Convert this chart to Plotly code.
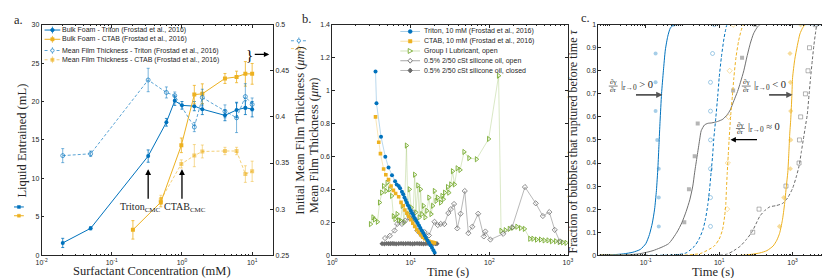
import math
import plotly.graph_objects as go

W, H = 830, 278

# ---------------- colours ----------------
BLUE = "#0072BD"
YELLOW = "#EDB120"
BLUE_L = "rgba(0,114,189,0.65)"
YELLOW_L = "rgba(237,177,32,0.6)"
GREEN = "#77AC30"
AX = "#262626"

# ---------------- panel a data ----------------
conc_triton = [0.02, 0.05, 0.33, 0.6, 0.79, 1.0, 1.5, 1.95, 4.1, 6.0, 8.0, 10.0]
bulk_triton = [1.6, 3.5, 12.9, 17.3, 20.1, 19.5, 19.4, 19.0, 18.2, 18.9, 19.2, 19.0]
bulk_triton_err = [0.6, 0.2, 0.8, 0.5, 0.6, 0.5, 0.6, 0.7, 0.7, 1.0, 0.9, 1.0]

conc_film_triton = [0.02, 0.05, 0.33, 0.6, 0.79, 1.5, 1.95, 4.1, 6.0, 8.0, 10.0]
film_triton = [0.358, 0.36, 0.44, 0.4265, 0.423, 0.389, 0.421, 0.406, 0.399, 0.422, 0.4135]
film_triton_err = [0.0076, 0.003, 0.0127, 0.006, 0.004, 0.005, 0.009, 0.007, 0.016, 0.014, 0.007]

conc_ctab = [0.2, 0.5, 0.98, 1.5, 1.95, 4.1, 6.0, 8.0, 10.0]
bulk_ctab = [3.3, 6.9, 14.3, 20.9, 21.0, 23.0, 23.2, 23.6, 23.6]
bulk_ctab_err = [1.2, 0.6, 0.95, 1.2, 1.3, 0.65, 0.75, 1.6, 1.35]

conc_film_ctab = [0.5, 0.98, 1.5, 1.95, 4.1, 6.0, 8.0, 10.0]
film_ctab = [0.31, 0.349, 0.358, 0.3625, 0.363, 0.363, 0.338, 0.341]
film_ctab_err = [0.005, 0.0044, 0.012, 0.007, 0.004, 0.004, 0.009, 0.011]

cmc_triton = 0.33
cmc_ctab = 1.0

names_a = ["Bulk Foam - Triton (Frostad et al., 2016)",
           "Bulk Foam - CTAB (Frostad et al., 2016)",
           "Mean Film Thickness - Triton (Frostad et al., 2016)",
           "Mean Film Thickness - CTAB (Frostad et al., 2016)"]

ticks_a_x = [0.01, 0.1, 1, 10]
ticks_a_xtext = ["10<sup>-2</sup>", "10<sup>-1</sup>", "10<sup>0</sup>", "10<sup>1</sup>"]
ticks_a_y = [0, 5, 10, 15, 20, 25, 30]
ticks_a_y2 = [0.25, 0.3, 0.35, 0.4, 0.45, 0.5]
ticks_a_y2text = ["0.25", "0.3", "0.35", "0.4", "0.45", "0.5"]

# ---------------- panel b data ----------------
t_triton = [3.55, 3.65, 4.17, 4.73, 5.2, 5.75, 6.3, 6.6, 7.0, 7.3, 7.7, 8.0, 8.3, 8.6, 8.9,
            9.2, 9.6, 10.0, 10.4, 10.8, 11.2, 11.7, 12.2, 12.7, 13.2, 13.8, 14.4, 15.0,
            15.6, 16.3, 17.0, 17.8, 18.6, 19.4, 20.1]
h_triton = [1.116, 0.923, 0.72, 0.598, 0.532, 0.485, 0.449, 0.43, 0.42, 0.406, 0.386, 0.37,
            0.35, 0.335, 0.318, 0.303, 0.287, 0.27, 0.255, 0.24, 0.225, 0.21, 0.195, 0.18,
            0.165, 0.15, 0.135, 0.12, 0.105, 0.09, 0.075, 0.06, 0.045, 0.03, 0.015]

t_ctab = [3.55, 3.9, 4.1, 4.5, 4.8, 5.2, 5.6, 6.0, 6.4, 7.0, 7.5, 8.0, 8.4, 8.9, 9.4, 10.0,
          10.6, 11.2, 11.9, 12.6, 13.4, 14.2, 15.0, 16.0, 17.0, 18.0, 19.0, 20.0]
h_ctab = [0.84, 0.686, 0.617, 0.524, 0.489, 0.459, 0.42, 0.394, 0.375, 0.355, 0.321, 0.30,
          0.275, 0.255, 0.235, 0.215, 0.195, 0.175, 0.155, 0.14, 0.125, 0.11, 0.1, 0.09,
          0.085, 0.08, 0.078, 0.075]

t_lub = [3.07, 3.3, 3.45, 3.76, 4.0, 4.26, 4.5, 4.83, 5.0, 5.4, 5.7, 6.0, 6.3, 6.7, 7.0, 7.4,
         7.8, 8.2, 8.8, 9.2, 9.6, 10.1, 10.6, 11.2, 11.6, 12.3, 12.8, 13.3, 13.8, 14.5, 15.2,
         16.0, 17.0, 18.1, 19.0, 20.0, 21.0, 22.0, 24.0, 25.0, 26.0, 27.0, 29.4, 30.5, 32.3,
         34.0, 36.0, 39.0, 42.4, 47.6, 55.0, 68.6, 98.0, 131.0, 141.0, 160.0, 180.0, 199.0,
         225.0, 250.0, 280.0, 328.0, 360.0, 400.0, 450.0, 500.0, 560.0, 620.0, 700.0, 780.0,
         860.0, 950.0]
h_lub = [0.189, 0.23, 0.217, 0.203, 0.32, 0.38, 0.42, 0.39, 0.44, 0.40, 0.36, 0.237, 0.22,
         0.25, 0.213, 0.21, 0.30, 0.20, 0.666, 0.25, 0.40, 0.29, 0.22, 0.489, 0.26, 0.424,
         0.23, 0.40, 0.25, 0.30, 0.23, 0.27, 0.35, 0.25, 0.30, 0.39, 0.33, 0.35, 0.32, 0.36,
         0.34, 0.38, 0.414, 0.38, 0.43, 0.51, 0.43, 0.528, 0.518, 0.627, 0.59, 0.583, 0.706,
         1.09, 0.148, 0.152, 0.16, 0.167, 0.173, 0.165, 0.16, 0.10, 0.10, 0.095, 0.095, 0.09,
         0.09, 0.085, 0.085, 0.08, 0.078, 0.075]

t_sil_open = [4.7, 5.4, 6.2, 6.7, 7.7, 8.5, 9.7, 10.5, 11.2, 12.1, 13.5, 15.0, 17.0, 20.0,
              22.0, 24.0, 26.7, 30.0, 32.3, 35.5, 39.0, 43.0, 48.6, 54.0, 60.6, 72.0, 85.0,
              89.0, 103.0, 150.0, 195.0, 284.0, 390.0, 480.0, 580.0, 680.0, 790.0]
h_sil_open = [0.104, 0.118, 0.15, 0.19, 0.19, 0.21, 0.225, 0.26, 0.22, 0.15, 0.124, 0.14,
              0.12, 0.203, 0.183, 0.19, 0.189, 0.256, 0.28, 0.311, 0.163, 0.252, 0.39, 0.134,
              0.173, 0.252, 0.114, 0.144, 0.095, 0.13, 0.17, 0.414, 0.315, 0.238, 0.262,
              0.154, 0.084]

t_sil_closed = [4.3, 4.6, 4.9, 5.2, 5.5, 5.8, 6.1, 6.5, 7.0, 7.5, 8.0, 8.6, 9.2, 9.8, 10.5,
                11.2, 12.0, 12.8, 13.6, 14.5, 15.5, 16.5, 17.5, 18.5, 19.5, 20.5, 21.5]
h_sil_closed = [0.07, 0.069, 0.071, 0.07, 0.07, 0.071, 0.07, 0.069, 0.07, 0.071, 0.07, 0.07,
                0.071, 0.07, 0.069, 0.07, 0.071, 0.07, 0.07, 0.069, 0.07, 0.071, 0.07, 0.07,
                0.071, 0.07, 0.07]

names_b = ["Triton, 10 mM (Frostad et al., 2016)", "CTAB, 10 mM (Frostad et al., 2016)",
           "Group I Lubricant, open", "0.5% 2/50 cSt silicone oil, open",
           "0.5% 2/50 cSt silicone oil, closed"]

ticks_b_x = [1, 10, 100, 1000]
ticks_b_xtext = ["10<sup>0</sup>", "10<sup>1</sup>", "10<sup>2</sup>", "10<sup>3</sup>"]
ticks_b_y = [0, 0.2, 0.4, 0.6, 0.8, 1.0, 1.2, 1.4]
ticks_b_ytext = ["0", "0.2", "0.4", "0.6", "0.8", "1", "1.2", "1.4"]

# ---------------- panel c data (curves) ----------------
c_blue_t = [0.0056, 0.0126, 0.0251, 0.0447, 0.0708, 0.1, 0.126, 0.151, 0.174, 0.195, 0.214,
            0.229, 0.245, 0.269, 0.302, 0.341, 0.398, 0.465, 0.562, 0.708, 10000]
c_blue_f = [0, 0.002, 0.006, 0.013, 0.025, 0.05, 0.09, 0.14, 0.2, 0.28, 0.38, 0.48, 0.58,
            0.7, 0.8, 0.89, 0.95, 0.985, 0.998, 1, 1]

c_gray_t = [0.0056, 0.0251, 0.066, 0.158, 0.417, 0.708, 0.955, 1.26, 1.58, 1.91, 2.15, 2.51,
            2.93, 3.24, 3.98, 4.9, 6.31, 9.02, 12.6, 16.6, 20.0, 25.1, 31.6, 38.0, 46.8,
            56.9, 70.8, 85.7, 105, 129, 10000]
c_gray_f = [0, 0.001, 0.006, 0.02, 0.05, 0.1, 0.14, 0.19, 0.24, 0.3, 0.36, 0.43, 0.5, 0.54,
            0.565, 0.572, 0.574, 0.58, 0.59, 0.61, 0.63, 0.67, 0.71, 0.75, 0.8, 0.86, 0.92,
            0.96, 0.985, 1, 1]

c_bluedash_t = [0.0056, 0.316, 0.776, 1.26, 2.15, 2.82, 3.59, 4.27, 4.9, 5.5, 6.03, 6.61,
                7.08, 7.59, 8.13, 9.12, 10.0, 11.5, 13.5, 15.1, 16.6, 10000]
c_bluedash_f = [0, 0, 0.003, 0.01, 0.04, 0.07, 0.11, 0.16, 0.22, 0.29, 0.36, 0.43, 0.5,
                0.55, 0.6, 0.69, 0.77, 0.86, 0.94, 0.98, 1, 1]

c_yeldash_t = [0.0056, 1.0, 3.16, 7.36, 10.0, 12.3, 14.1, 15.1, 15.8, 16.6, 17.6, 18.6,
               19.5, 20.4, 22.9, 25.1, 28.8, 33.9, 39.8, 46.8, 10000]
c_yeldash_f = [0, 0, 0.008, 0.04, 0.07, 0.11, 0.17, 0.22, 0.29, 0.36, 0.43, 0.5, 0.55, 0.6,
               0.69, 0.77, 0.86, 0.93, 0.975, 1, 1]

c_graydash_t = [0.0056, 10, 16.6, 25.1, 38, 56.2, 77.6, 100, 129, 178, 240, 355, 537, 741,
                1000, 1259, 1514, 1738, 1950, 2239, 2512, 2818, 3090, 3467, 3802, 4266,
                4677, 10000]
c_graydash_f = [0, 0, 0.005, 0.02, 0.04, 0.07, 0.1, 0.135, 0.17, 0.195, 0.21, 0.215, 0.225,
                0.25, 0.29, 0.34, 0.39, 0.45, 0.5, 0.56, 0.61, 0.7, 0.77, 0.85, 0.91, 0.97,
                1, 1]

c_yel_t = [0.0056, 46.8, 129, 200, 295, 372, 442, 525, 603, 676, 741, 794, 832, 891, 955,
           1000, 1148, 1349, 1585, 1862, 2239, 10000]
c_yel_f = [0, 0, 0.01, 0.02, 0.04, 0.065, 0.095, 0.15, 0.22, 0.3, 0.36, 0.45, 0.52, 0.59,
           0.69, 0.77, 0.85, 0.91, 0.96, 0.985, 1, 1]

# measured points, panel c
p_blue_t = [0.226, 0.226, 0.226, 0.205, 0.185, 0.185, 0.185, 0.57]
p_blue_f = [0.125, 0.25, 0.375, 0.5, 0.625, 0.75, 0.875, 1.0]
p_gray_t = [1.12, 1.5, 2.15, 2.6, 24, 42, 95]
p_gray_f = [0.143, 0.286, 0.429, 0.571, 0.714, 0.857, 1.0]
p_bluedash_t = [5.8, 5.8, 5.8, 5.8, 5.8, 5.8, 6.6, 7.4]
p_bluedash_f = [0.125, 0.25, 0.375, 0.5, 0.625, 0.75, 0.875, 1.0]
p_yeldash_t = [16.5, 17.2, 18.0, 19.3, 24.0]
p_yeldash_f = [0.2, 0.4, 0.6, 0.8, 1.0]
p_graydash_t = [82, 122, 660, 1500, 1540, 1660, 2240, 2630, 2890, 4170]
p_graydash_f = [0.1, 0.2, 0.3, 0.4, 0.5, 0.6, 0.7, 0.8, 0.9, 1.0]
p_yel_t = [440, 575, 870, 890, 890, 870, 850, 1660]
p_yel_f = [0.125, 0.25, 0.375, 0.5, 0.625, 0.75, 0.875, 1.0]

ticks_c_x = [0.1, 10, 1000]
ticks_c_xtext = ["10<sup>-1</sup>", "10<sup>1</sup>", "10<sup>3</sup>"]
ticks_c_y = [0, 0.1, 0.2, 0.3, 0.4, 0.5, 0.6, 0.7, 0.8, 0.9, 1.0]
ticks_c_ytext = ["0", "0.1", "0.2", "0.3", "0.4", "0.5", "0.6", "0.7", "0.8", "0.9", "1"]


# ---------------- helpers ----------------
def px(x):
    return x / W


def py(y):
    return 1 - y / H


def minor_vals(lo, hi):
    vals = []
    for e in range(lo, hi + 1):
        for k in range(1, 10):
            vals.append(k * 10.0 ** e)
    return vals


SERIF = "Liberation Serif"
SANS = "Liberation Sans"
TICKFONT = dict(family=SANS, size=7, color=AX)
DASH = "3px,2px"

fig = go.Figure()

# ---------------- panel a traces ----------------
fig.add_trace(go.Scatter(
    x=conc_triton, y=bulk_triton, xaxis="x", yaxis="y", mode="lines+markers",
    error_y=dict(type="data", array=bulk_triton_err, color=BLUE, thickness=0.8, width=1.5),
    line=dict(color=BLUE, width=1), marker=dict(symbol="circle", size=4, color=BLUE),
    showlegend=False, name=names_a[0]))
fig.add_trace(go.Scatter(
    x=conc_ctab, y=bulk_ctab, xaxis="x", yaxis="y", mode="lines+markers",
    error_y=dict(type="data", array=bulk_ctab_err, color=YELLOW, thickness=0.8, width=1.5),
    line=dict(color=YELLOW, width=1), marker=dict(symbol="square", size=4, color=YELLOW),
    showlegend=False, name=names_a[1]))
fig.add_trace(go.Scatter(
    x=conc_film_triton, y=film_triton, xaxis="x", yaxis="y2", mode="lines+markers",
    error_y=dict(type="data", array=film_triton_err, color=BLUE_L, thickness=0.8, width=1.5),
    line=dict(color=BLUE_L, width=1, dash=DASH),
    marker=dict(symbol="circle-open", size=4, color=BLUE_L, line=dict(width=1)),
    showlegend=False, name=names_a[2]))
fig.add_trace(go.Scatter(
    x=conc_film_ctab, y=film_ctab, xaxis="x", yaxis="y2", mode="lines+markers",
    error_y=dict(type="data", array=film_ctab_err, color=YELLOW_L, thickness=0.8, width=1.5),
    line=dict(color=YELLOW_L, width=1, dash=DASH),
    marker=dict(symbol="square", size=4, color=YELLOW_L),
    showlegend=False, name=names_a[3]))

# ---------------- panel b traces ----------------
fig.add_trace(go.Scatter(
    x=t_lub, y=h_lub, xaxis="x2", yaxis="y3", mode="lines+markers",
    line=dict(color="rgba(119,172,48,0.35)", width=0.8),
    marker=dict(symbol="triangle-right-open", size=4.5, color=GREEN, line=dict(width=0.9)),
    showlegend=False, name=names_b[2]))
fig.add_trace(go.Scatter(
    x=t_sil_open, y=h_sil_open, xaxis="x2", yaxis="y3", mode="lines+markers",
    line=dict(color="#a6a6a6", width=0.8),
    marker=dict(symbol="diamond-open", size=4, color="#6e6e6e", line=dict(width=0.8)),
    showlegend=False, name=names_b[3]))
fig.add_trace(go.Scatter(
    x=t_sil_closed, y=h_sil_closed, xaxis="x2", yaxis="y3", mode="lines+markers",
    line=dict(color="#b8b8b8", width=0.8),
    marker=dict(symbol="diamond", size=4, color="#6a6a6a"),
    showlegend=False, name=names_b[4]))
fig.add_trace(go.Scatter(
    x=t_ctab, y=h_ctab, xaxis="x2", yaxis="y3", mode="lines+markers",
    line=dict(color="rgba(237,177,32,0.4)", width=0.8),
    marker=dict(symbol="square", size=3.6, color=YELLOW),
    showlegend=False, name=names_b[1]))
fig.add_trace(go.Scatter(
    x=t_triton, y=h_triton, xaxis="x2", yaxis="y3", mode="lines+markers",
    line=dict(color="rgba(0,114,189,0.35)", width=0.8),
    marker=dict(symbol="circle", size=4, color=BLUE),
    showlegend=False, name=names_b[0]))

# ---------------- panel c traces ----------------
pts = [
    (p_blue_t, p_blue_f, "circle", "rgba(0,114,189,0.35)", None),
    (p_gray_t, p_gray_f, "square", "rgba(90,90,90,0.45)", None),
    (p_bluedash_t, p_bluedash_f, "circle-open", "rgba(0,114,189,0.4)", 0.9),
    (p_yeldash_t, p_yeldash_f, "diamond-open", "rgba(237,177,32,0.45)", 0.9),
    (p_graydash_t, p_graydash_f, "square-open", "rgba(90,90,90,0.5)", 0.9),
    (p_yel_t, p_yel_f, "diamond", "rgba(237,177,32,0.45)", None),
]
for tx, fy, sym, col, lw in pts:
    mk = dict(symbol=sym, size=4, color=col)
    if lw:
        mk["line"] = dict(width=lw, color=col)
    fig.add_trace(go.Scatter(x=tx, y=fy, xaxis="x3", yaxis="y4", mode="markers",
                             marker=mk, showlegend=False))

curves = [
    (c_blue_t, c_blue_f, BLUE, "solid"),
    (c_gray_t, c_gray_f, "#707070", "solid"),
    (c_bluedash_t, c_bluedash_f, BLUE, DASH),
    (c_yeldash_t, c_yeldash_f, YELLOW, DASH),
    (c_graydash_t, c_graydash_f, "#6a6a6a", DASH),
    (c_yel_t, c_yel_f, YELLOW, "solid"),
]
for tx, fy, col, dash in curves:
    fig.add_trace(go.Scatter(x=tx, y=fy, xaxis="x3", yaxis="y4", mode="lines",
                             line=dict(color=col, width=1, dash=dash, shape="spline",
                                       smoothing=0.6),
                             showlegend=False))

# ---------------- axes ----------------
YDOM = [py(249.5), py(13)]
common = dict(ticks="inside", ticklen=3, tickwidth=0.8, tickcolor=AX, showline=True,
              linecolor=AX, linewidth=0.8, showgrid=False, zeroline=False, tickfont=TICKFONT)


def minor_log(lo, hi):
    return dict(ticks="inside", ticklen=1.6, tickwidth=0.6, tickcolor=AX,
                tickmode="array", tickvals=minor_vals(lo, hi), showgrid=False)


fig.update_layout(
    xaxis=dict(domain=[px(28), px(263)], type="log", range=[-2, 1.30], anchor="y",
               tickmode="array", tickvals=ticks_a_x, ticktext=ticks_a_xtext, mirror="ticks",
               minor=minor_log(-2, 1), **common),
    yaxis=dict(domain=YDOM, range=[0, 30], anchor="x", tickmode="array",
               tickvals=ticks_a_y, **common),
    yaxis2=dict(range=[0.25, 0.5], anchor="x", overlaying="y", side="right",
                tickmode="array", tickvals=ticks_a_y2, ticktext=ticks_a_y2text, **common),
    xaxis2=dict(domain=[px(323), px(562)], type="log", range=[0, 3], anchor="y3",
                tickmode="array", tickvals=ticks_b_x, ticktext=ticks_b_xtext, mirror="ticks",
                minor=minor_log(0, 2), **common),
    yaxis3=dict(domain=YDOM, range=[0, 1.4], anchor="x2", tickmode="array",
                tickvals=ticks_b_y, ticktext=ticks_b_ytext, mirror="ticks", **common),
    xaxis3=dict(domain=[px(593), px(828)], type="log", range=[-2.29, 4.02], anchor="y4",
                tickmode="array", tickvals=ticks_c_x, ticktext=ticks_c_xtext, mirror="ticks",
                minor=minor_log(-3, 4), **common),
    yaxis4=dict(domain=YDOM, range=[0, 1], anchor="x3", tickmode="array",
                tickvals=ticks_c_y, ticktext=ticks_c_ytext, mirror="ticks", **common),
)

# ---------------- annotations ----------------
ann = []
shapes = []


def text(x, y, s, size=12.5, family=SERIF, angle=0, xanchor="center", yanchor="middle",
         color=AX):
    ann.append(dict(x=px(x), y=py(y), xref="paper", yref="paper", text=s, showarrow=False,
                    textangle=angle, xanchor=xanchor, yanchor=yanchor, borderpad=0,
                    font=dict(family=family, size=size, color=color)))


def arrow(x0, y0, x1, y1, width=1.3, color="black", size=0.9):
    # arrow from pixel (x0, y0) to head at pixel (x1, y1)
    ann.append(dict(x=px(x1), y=py(y1), xref="paper", yref="paper",
                    ax=x0 - x1, ay=y0 - y1, text="", showarrow=True, arrowhead=2,
                    arrowsize=size, arrowwidth=width, arrowcolor=color))


# panel letters
text(5, 8, "a.", size=12.5)
text(297, 7, "b.", size=12.5)
text(580, 6, "c.", size=12.5)

# axis titles
text(140, 266, "Surfactant Concentration (mM)", size=12.5)
text(8, 132, "Liquid Entrained (mL)", angle=-90)
text(290, 121, "Initial Mean Film Thickness (<i>μm</i>)", angle=-90)
text(304, 137, "Mean Film Thickness (<i>μm</i>)", angle=-90)
text(440, 267, "Time (s)")
text(709, 267, "Time (s)")
text(567, 133, "Fraction of bubbles that ruptured before time <i>τ</i>", angle=-90, size=12)

# CMC arrows (panel a)
for c in (cmc_triton, cmc_ctab):
    ann.append(dict(x=math.log10(c), y=11.2, xref="x", yref="y", ax=0, ay=31, text="",
                    showarrow=True, arrowhead=2, arrowsize=0.9, arrowwidth=1.3,
                    arrowcolor="black"))
text(150, 201, "Triton<sub>CMC</sub>", size=10, xanchor="right")
text(151, 201, "CTAB<sub>CMC</sub>", size=10, xanchor="left")

# legend of panel a (manual, compact rows)
leg_a = [(18.5, BLUE, "solid", "circle"), (28.0, YELLOW, "solid", "square"),
         (39.5, BLUE_L, "dash", "circle-open"), (49.0, YELLOW_L, "dash", "square")]
for (yy, col, dash, mk), nm in zip(leg_a, names_a):
    shapes.append(dict(type="line", xref="paper", yref="paper", x0=px(31), x1=px(47),
                       y0=py(yy), y1=py(yy),
                       line=dict(color=col, width=1, dash="dot" if dash == "dash" else "solid")))
    shapes.append(dict(type="line", xref="paper", yref="paper", x0=px(39), x1=px(39),
                       y0=py(yy - 3.5), y1=py(yy + 3.5), line=dict(color=col, width=0.8)))
    if mk.startswith("circle"):
        shapes.append(dict(type="circle", xref="paper", yref="paper", x0=px(37.3), x1=px(40.7),
                           y0=py(yy + 1.7), y1=py(yy - 1.7), line=dict(color=col, width=1),
                           fillcolor=("white" if mk.endswith("open") else col)))
    else:
        shapes.append(dict(type="rect", xref="paper", yref="paper", x0=px(37.3), x1=px(40.7),
                           y0=py(yy + 1.7), y1=py(yy - 1.7), line=dict(color=col, width=0.5),
                           fillcolor=col))
    text(48, yy, nm, size=7, family=SANS, xanchor="left")

# brace + arrow pointing to right axis
text(238.5, 44, "}", size=15, family=SERIF, color="black")
arrow(243, 43.5, 259, 43.5, width=1.2)

# stray legend samples at the edges
for yy, col in ((29.5, BLUE_L), (37.5, YELLOW_L)):
    shapes.append(dict(type="line", xref="paper", yref="paper", x0=px(281), x1=px(297),
                       y0=py(yy), y1=py(yy), line=dict(color=col, width=1, dash="dot")))
    shapes.append(dict(type="line", xref="paper", yref="paper", x0=px(289), x1=px(289),
                       y0=py(yy - 3.5), y1=py(yy + 3.5), line=dict(color=col, width=0.8)))
    shapes.append(dict(type="circle", xref="paper", yref="paper", x0=px(287.3), x1=px(290.7),
                       y0=py(yy + 1.7), y1=py(yy - 1.7), line=dict(color=col, width=1),
                       fillcolor="white"))
for yy, col in ((200, BLUE), (209, YELLOW)):
    shapes.append(dict(type="line", xref="paper", yref="paper", x0=0, x1=px(10),
                       y0=py(yy), y1=py(yy), line=dict(color=col, width=1)))
    shapes.append(dict(type="rect", xref="paper", yref="paper", x0=px(3.5), x1=px(6.5),
                       y0=py(yy + 1.5), y1=py(yy - 1.5), line=dict(color=col, width=0.5),
                       fillcolor=col))

# legend of panel b (manual)
leg_b = [(20, "rgba(0,114,189,0.35)", BLUE, "circle"),
         (30, "rgba(237,177,32,0.4)", YELLOW, "square"),
         (40, "rgba(119,172,48,0.35)", GREEN, "tri"),
         (50, "#a6a6a6", "#6e6e6e", "diamond-open"),
         (60, "#b8b8b8", "#6a6a6a", "diamond")]
for (yy, lcol, mcol, mk), nm in zip(leg_b, names_b):
    shapes.append(dict(type="line", xref="paper", yref="paper", x0=px(392), x1=px(412),
                       y0=py(yy), y1=py(yy), line=dict(color=lcol, width=1)))
    cx, cy = 402, yy
    if mk == "circle":
        shapes.append(dict(type="circle", xref="paper", yref="paper", x0=px(cx - 2), x1=px(cx + 2),
                           y0=py(cy + 2), y1=py(cy - 2), line=dict(color=mcol, width=0.5),
                           fillcolor=mcol))
    elif mk == "square":
        shapes.append(dict(type="rect", xref="paper", yref="paper", x0=px(cx - 1.8), x1=px(cx + 1.8),
                           y0=py(cy + 1.8), y1=py(cy - 1.8), line=dict(color=mcol, width=0.5),
                           fillcolor=mcol))
    elif mk == "tri":
        path = "M %f %f L %f %f L %f %f Z" % (px(cx - 2), py(cy - 2.5), px(cx + 2.5), py(cy),
                                               px(cx - 2), py(cy + 2.5))
        shapes.append(dict(type="path", xref="paper", yref="paper", path=path,
                           line=dict(color=mcol, width=0.9), fillcolor="white"))
    else:
        path = "M %f %f L %f %f L %f %f L %f %f Z" % (px(cx), py(cy - 2.5), px(cx + 2.2), py(cy),
                                                       px(cx), py(cy + 2.5), px(cx - 2.2), py(cy))
        shapes.append(dict(type="path", xref="paper", yref="paper", path=path,
                           line=dict(color=mcol, width=0.9),
                           fillcolor=("white" if mk.endswith("open") else mcol)))
    text(415, yy, nm, size=7, family=SANS, xanchor="left")


# panel c annotations: stacked fraction d(gamma)/dr, then |r->0 relation
def grad_label(xl, yc, rel):
    text(xl + 5, yc - 3.8, "∂γ", size=7)
    text(xl + 5, yc + 3.8, "∂r", size=7)
    shapes.append(dict(type="line", xref="paper", yref="paper", x0=px(xl + 0.5), x1=px(xl + 9.5),
                       y0=py(yc), y1=py(yc), line=dict(color=AX, width=0.6)))
    text(xl + 12, yc - 1, "|<sub>r→0</sub> " + rel, size=10.5, xanchor="left")


grad_label(603, 76, "> 0")
grad_label(738, 76, "< 0")
grad_label(732, 119.5, "≈ 0")
arrow(630, 85, 658, 85, width=1.8, color="#555555", size=0.7)
arrow(765, 85, 790, 85, width=1.8, color="#555555", size=0.7)
arrow(755, 131, 727, 131, width=1.2, color="black", size=0.9)

fig.update_layout(
    width=W, height=H, autosize=False,
    margin=dict(l=0, r=0, t=0, b=0),
    paper_bgcolor="white", plot_bgcolor="white",
    showlegend=False,
    annotations=ann, shapes=shapes,
)

fig.write_html("out.html", config={"displayModeBar": False})
